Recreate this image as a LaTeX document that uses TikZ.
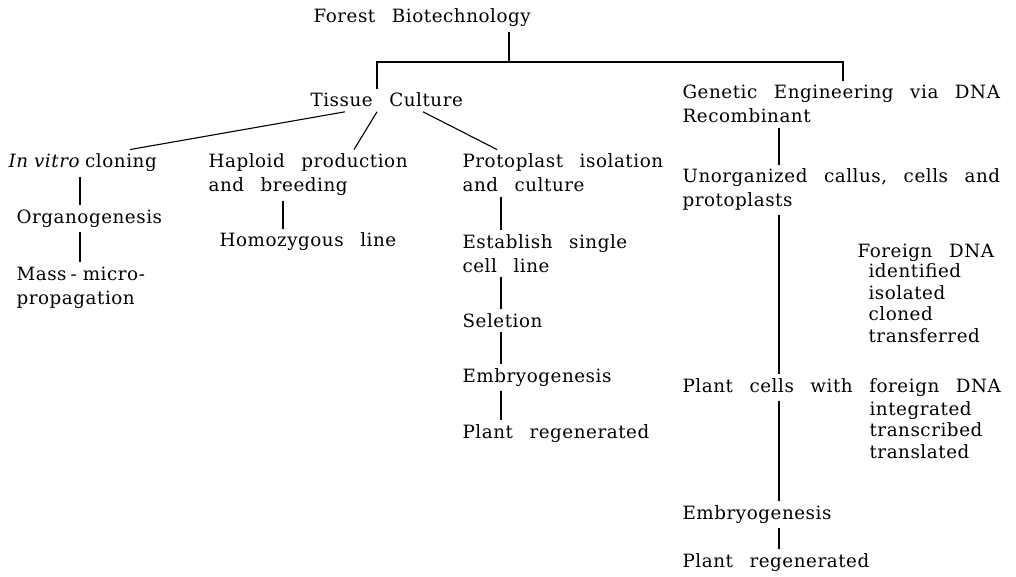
\documentclass[tikz,border=0pt]{standalone}
\usepackage{fontspec}
\setmainfont{DejaVu Serif}[WordSpace=2.6, LetterSpace=3]
\tikzset{every picture/.style={line width=1.1pt}}
\tikzset{
  lbl/.style={anchor=base west, inner xsep=0pt, inner ysep=4pt, align=left,
    font=\fontsize{18.3}{24}\selectfont},
  sub/.style={lbl, font=\fontsize{18.3}{21.4}\selectfont},
  link/.style={draw=black, line cap=butt}
}

\begin{document}
\begin{tikzpicture}[x=1pt,y=1pt,yscale=-1,xscale=1]
		\useasboundingbox (0,0) rectangle (1016,577);

		% Text Nodes, top (base = last line)
		\node [lbl] (forest) at (313,23) {Forest Biotechnology};
		\node [lbl] (tissue) at (310,107) {Tissue Culture};
		\node [lbl] (gen) at (682,123) {Genetic Engineering via DNA\\Recombinant};

		% Text Nodes, tissue culture branches
		\node [lbl] (invitro) at (8,168) {\textit{In\hspace{6pt}vitro}\hspace{5pt}cloning};
		\node [lbl] (organo) at (16,223) {Organogenesis};
		\node [lbl] (mass) at (16,304) {Mass\hspace{4pt}-\hspace{6pt}micro-\\propagation};
		\node [lbl] (haploid) at (208,192) {Haploid production\\and breeding};
		\node [lbl] (homo) at (219,247) {Homozygous line};
		\node [lbl] (proto) at (462,192) {Protoplast isolation\\and culture};
		\node [lbl] (establish) at (462,272) {Establish single\\cell line};
		\node [lbl] (selection) at (462,327) {Seletion};
		\node [lbl] (embryoA) at (462,382) {Embryogenesis};
		\node [lbl] (regenA) at (462,438) {Plant regenerated};

		% Text Nodes, genetic engineering branch
		\node [lbl] (unorg) at (682,207) {Unorganized callus, cells and\\protoplasts};
		\node [lbl] (foreign) at (857,257) {Foreign DNA};
		\node [sub] (steps) at (868,342) {identified\\isolated\\cloned\\transferred};
		\node [lbl] (cells) at (682,392) {Plant cells with foreign DNA};
		\node [sub] (fate) at (869,458) {integrated\\transcribed\\translated};
		\node [lbl] (embryoB) at (682,519) {Embryogenesis};
		\node [lbl] (regenB) at (682,567) {Plant regenerated};

		% bus and spines
		\coordinate (trunk) at (509,62);
		\coordinate (busL) at (377,62);
		\coordinate (busR) at (843,62);
		\coordinate (tA) at (345,0);
		\coordinate (tB) at (377,0);
		\coordinate (tC) at (423,0);
		\coordinate (cA) at (130,0);
		\coordinate (cB) at (354,0);
		\coordinate (cC) at (497,0);
		\coordinate (spA) at (80,0);
		\coordinate (spB) at (283,0);
		\coordinate (spC) at (501,0);
		\coordinate (spD) at (779,0);

		%Straight Lines, top
		\draw [link] (forest.south -| trunk) -- (trunk);
		\draw [link] (tissue.north -| busL) -- (busL) -- (busR) -- (gen.north -| busR);
		%Straight Lines, slanted
		\draw [link] (tissue.south -| tA) -- (invitro.north -| cA);
		\draw [link] (tissue.south -| tB) -- (haploid.north -| cB);
		\draw [link] (tissue.south -| tC) -- (proto.north -| cC);
		%Straight Lines, columns
		\draw [link] (invitro.south -| spA) -- (organo.north -| spA);
		\draw [link] (organo.south -| spA) -- (mass.north -| spA);
		\draw [link] (haploid.south -| spB) -- (homo.north -| spB);
		\draw [link] (proto.south -| spC) -- (establish.north -| spC);
		\draw [link] (establish.south -| spC) -- (selection.north -| spC);
		\draw [link] (selection.south -| spC) -- (embryoA.north -| spC);
		\draw [link] (embryoA.south -| spC) -- (regenA.north -| spC);
		\draw [link] (gen.south -| spD) -- (unorg.north -| spD);
		\draw [link] (unorg.south -| spD) -- (cells.north -| spD);
		\draw [link] (cells.south -| spD) -- (embryoB.north -| spD);
		\draw [link] (embryoB.south -| spD) -- (regenB.north -| spD);
	\end{tikzpicture}
\end{document}
